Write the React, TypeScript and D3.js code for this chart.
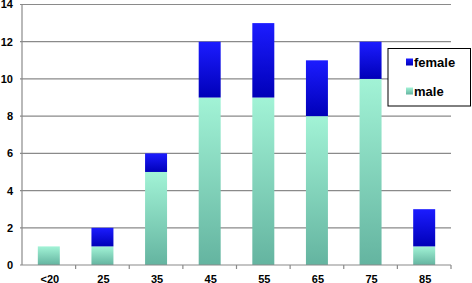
import React, { useEffect, useRef } from 'react';
import * as d3 from 'd3';

const ageGroups = ['<20', '25', '35', '45', '55', '65', '75', '85'];
const maleCounts = [1, 1, 5, 9, 9, 8, 10, 1];
const femaleCounts = [0, 1, 1, 3, 4, 3, 2, 2];
const yTicks = [0, 2, 4, 6, 8, 10, 12, 14];
const seriesNames = ['female', 'male'];

const width = 472;
const height = 283;

const App = () => {
  const ref = useRef<SVGSVGElement>(null);

  useEffect(() => {
    const svg = d3.select(ref.current);
    svg.selectAll('*').remove();

    const left = 22;
    const right = 451;
    const top = 4.5;
    const bottom = 265;
    const font = 'Liberation Sans, Arial, sans-serif';

    const x = d3.scaleBand().domain(ageGroups).range([left, right]).paddingInner(0.59).paddingOuter(0.295);
    const xOuter = d3.scaleBand().domain(ageGroups).range([left, right]);
    const y = d3.scaleLinear().domain([0, 14]).range([bottom, top]);

    // gradients
    const defs = svg.append('defs');
    const grad = (id, c1, c2) => {
      const g = defs.append('linearGradient').attr('id', id)
        .attr('x1', 0).attr('y1', 0).attr('x2', 0).attr('y2', 1);
      g.append('stop').attr('offset', '0%').attr('stop-color', c1);
      g.append('stop').attr('offset', '100%').attr('stop-color', c2);
    };
    grad('maleGrad', '#a2f3d6', '#64b4a0');
    grad('femaleGrad', '#1c1cff', '#0000b8');

    // gridlines
    svg.append('g')
      .selectAll('line')
      .data(yTicks.filter(t => t > 0))
      .join('line')
      .attr('x1', left - 2)
      .attr('x2', right)
      .attr('y1', d => y(d))
      .attr('y2', d => y(d))
      .attr('stroke', '#8a8a8a')
      .attr('stroke-width', 1.2);

    // y labels
    svg.append('g')
      .selectAll('text')
      .data(yTicks)
      .join('text')
      .attr('x', 13)
      .attr('y', d => y(d))
      .attr('dy', '0.36em')
      .attr('text-anchor', 'end')
      .style('font', `bold 11px ${font}`)
      .text(d => d);

    const stacked = d3.stack().keys(['male', 'female'])(
      ageGroups.map((g, i) => ({ group: g, male: maleCounts[i], female: femaleCounts[i] }))
    );

    svg.append('g')
      .selectAll('g')
      .data(stacked)
      .join('g')
      .attr('fill', d => d.key === 'male' ? 'url(#maleGrad)' : 'url(#femaleGrad)')
      .selectAll('rect')
      .data(d => d.filter(s => s[1] > s[0]))
      .join('rect')
      .attr('x', d => x(d.data.group))
      .attr('width', x.bandwidth())
      .attr('y', d => y(d[1]))
      .attr('height', d => y(d[0]) - y(d[1]));

    // axes
    svg.append('line')
      .attr('x1', left).attr('x2', left).attr('y1', top).attr('y2', bottom)
      .attr('stroke', '#8a8a8a').attr('stroke-width', 1.2);
    svg.append('line')
      .attr('x1', left - 2).attr('x2', right).attr('y1', bottom).attr('y2', bottom)
      .attr('stroke', '#8a8a8a').attr('stroke-width', 1.2);
    svg.append('g')
      .selectAll('line')
      .data(ageGroups.slice(1).map(g => xOuter(g)).concat([right]))
      .join('line')
      .attr('x1', d => d).attr('x2', d => d)
      .attr('y1', bottom).attr('y2', bottom + 4)
      .attr('stroke', '#8a8a8a').attr('stroke-width', 1.2);

    // x labels
    svg.append('g')
      .selectAll('text')
      .data(ageGroups)
      .join('text')
      .attr('x', d => xOuter(d) + xOuter.bandwidth() / 2 + 1)
      .attr('y', 283)
      .attr('text-anchor', 'middle')
      .style('font', `bold 11px ${font}`)
      .text(d => d);

    // legend
    const lg = svg.append('g');
    lg.append('rect')
      .attr('x', 388).attr('y', 48.5).attr('width', 82.5).attr('height', 57.5)
      .attr('fill', '#fff').attr('stroke', '#000').attr('stroke-width', 1);
    seriesNames.forEach((name, i) => {
      const cy = 62 + i * 29;
      lg.append('rect')
        .attr('x', 406).attr('y', cy - 3.5).attr('width', 7).attr('height', 7)
        .attr('fill', name === 'male' ? 'url(#maleGrad)' : 'url(#femaleGrad)');
      lg.append('text')
        .attr('x', 414).attr('y', cy).attr('dy', '0.36em')
        .style('font', `bold 13px ${font}`)
        .text(name);
    });
  }, []);

  return (
    <svg ref={ref} width={width} height={height}
      style={{ position: 'absolute', left: 0, top: 0, background: '#fff' }} />
  );
};

export default App;
